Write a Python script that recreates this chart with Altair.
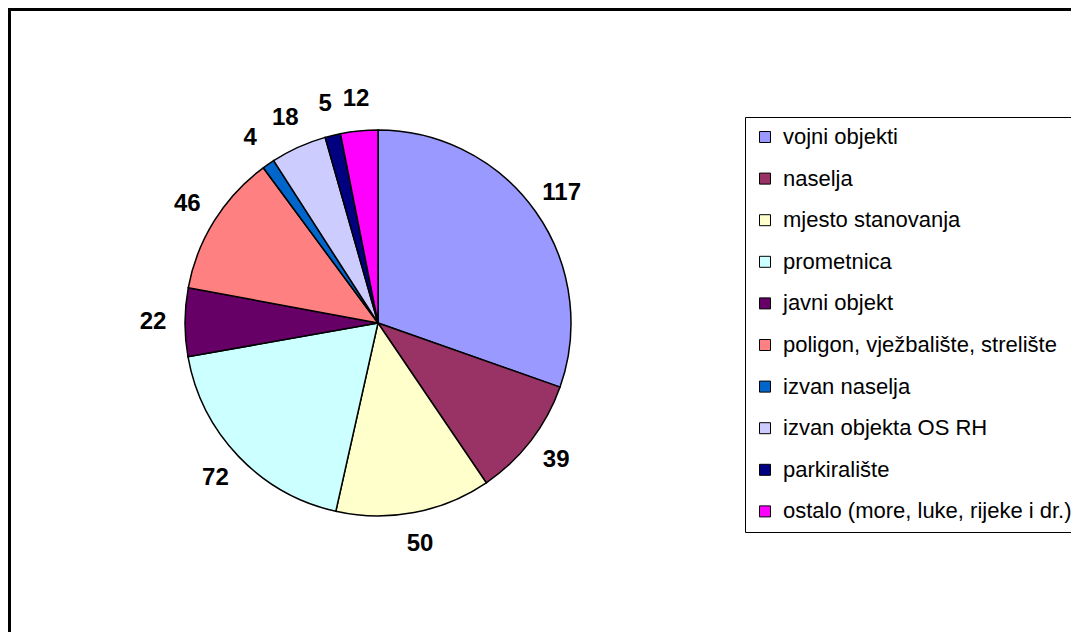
import altair as alt
import pandas as pd

categories = ["vojni objekti", "naselja", "mjesto stanovanja", "prometnica", "javni objekt",
              "poligon, vježbalište, strelište", "izvan naselja", "izvan objekta OS RH",
              "parkiralište", "ostalo (more, luke, rijeke i dr.)"]
values = [117, 39, 50, 72, 22, 46, 4, 18, 5, 12]
colors = ["#9999FF", "#993366", "#FFFFCC", "#CCFFFF", "#660066",
          "#FF8080", "#0066CC", "#CCCCFF", "#000080", "#FF00FF"]

df = pd.DataFrame({"cat": categories, "val": values, "idx": list(range(len(values)))})

PADL, PADT = 5, 5
W, H = 1063 - PADL, 624 - PADT
OX, OY = 8 + PADL, 8 + PADT
CX, CY = 378 - OX, 323 - OY
R = 193

color = alt.Color("cat:N", sort=categories,
                  scale=alt.Scale(domain=categories, range=colors),
                  legend=alt.Legend(title=None, orient="none", legendX=745 - OX, legendY=117 - OY,
                                    symbolType="square", symbolSize=121,
                                    symbolStrokeColor="black", symbolStrokeWidth=1,
                                    labelFont="Liberation Sans", labelFontSize=22,
                                    labelColor="black", labelLimit=400,
                                    rowPadding=19.6, labelOffset=7, padding=9,
                                    strokeColor="black", fillColor="white"))

base = alt.Chart(df).encode(
    theta=alt.Theta("val:Q", stack=True),
    order=alt.Order("idx:Q"),
)

pie = base.mark_arc(stroke="black", strokeWidth=1.5, radius=R).encode(
    color=color, x=alt.value(CX), y=alt.value(CY))

labels = base.mark_text(radius=R + 32, font="Liberation Sans", fontSize=24,
                        fontWeight="bold", color="black").encode(
    text="val:Q", x=alt.value(CX), y=alt.value(CY))

frame = alt.Chart(pd.DataFrame({"a": [0]})).mark_rect(
    fill=None, stroke="black", strokeWidth=3).encode(
    x=alt.value(9.5 - OX), x2=alt.value(1200), y=alt.value(9.5 - OY), y2=alt.value(800))

chart = alt.layer(frame, pie, labels).properties(
    width=W, height=H,
    padding={"left": PADL, "top": PADT, "right": 0, "bottom": 0},
    autosize=alt.AutoSizeParams(type="none")
).configure_view(stroke=None)

chart.save("out.html", embed_options={"renderer": "svg", "actions": False})
